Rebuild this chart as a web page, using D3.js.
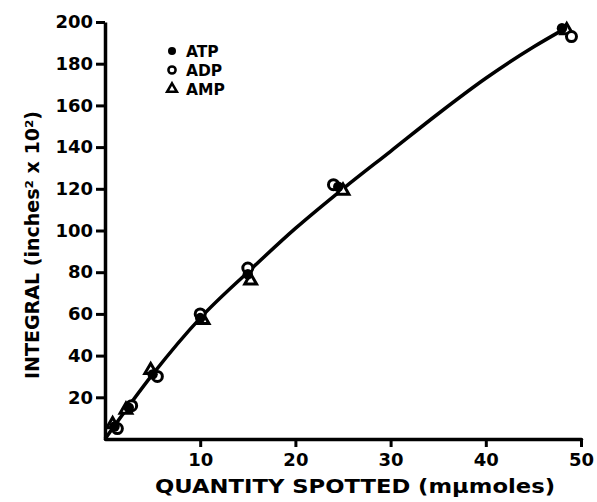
<!DOCTYPE html>
<html>
<head>
<meta charset="utf-8">
<script src="https://cdn.jsdelivr.net/npm/d3@7"></script>
<style>
html,body{margin:0;padding:0;background:#fff;}
svg text{font-family:"DejaVu Sans","Liberation Sans",sans-serif;font-weight:bold;fill:#000;}
</style>
</head>
<body>
<svg id="chart" width="597" height="502"></svg>
<script>
// Data
const xTicks = [10, 20, 30, 40, 50];
const yTicks = [20, 40, 60, 80, 100, 120, 140, 160, 180, 200];
const atp = [[1.0, 6], [2.5, 15], [5.0, 31], [10.0, 58], [15.0, 79], [24.5, 121], [48.0, 197]];
const adp = [[1.3, 5], [2.8, 16], [5.5, 30], [10.0, 60], [15.0, 82], [24.0, 122], [49.0, 193]];
const amp = [[0.8, 7], [2.2, 14], [4.8, 33], [10.3, 57], [15.3, 76], [25.0, 119], [48.5, 196]];
const curve = [[0, 0], [5, 31], [10, 58], [15, 80], [20, 101], [25, 120], [30, 138], [35, 156], [40, 173], [45, 188], [48, 196]];
const legendLabels = ["ATP", "ADP", "AMP"];

const svg = d3.select("#chart");
const x = d3.scaleLinear().domain([0, 50]).range([105, 581]);
const y = d3.scaleLinear().domain([0, 200]).range([439, 22]);

// X axis
const xAxis = svg.append("g").attr("transform", `translate(0,${y(0)})`)
  .call(d3.axisBottom(x).tickValues(xTicks).tickSize(8).tickSizeOuter(0).tickPadding(4));
// Y axis
const yAxis = svg.append("g").attr("transform", `translate(${x(0)},0)`)
  .call(d3.axisLeft(y).tickValues(yTicks).tickSize(9).tickSizeOuter(0).tickPadding(3));
[xAxis, yAxis].forEach(a => {
  a.select(".domain").attr("stroke", "#000").attr("stroke-width", 3.5);
  a.selectAll(".tick line").attr("stroke", "#000").attr("stroke-width", 3);
  a.selectAll(".tick text").attr("font-size", 18).attr("fill", "#000")
    .style("font-family", "'DejaVu Sans',sans-serif").style("font-weight", "bold");
});
xAxis.selectAll(".tick text").attr("dy", "0.85em");
xAxis.select(".domain").attr("stroke-linecap", "round");

// Fitted curve
const line = d3.line().x(d => x(d[0])).y(d => y(d[1])).curve(d3.curveMonotoneX);
svg.append("path").datum(curve).attr("d", line)
  .attr("fill", "none").attr("stroke", "#000").attr("stroke-width", 3.5);

// Markers
const tri = d3.symbol().type(d3.symbolTriangle).size(60);
svg.append("g").selectAll("path").data(amp).join("path")
  .attr("transform", d => `translate(${x(d[0])},${y(d[1])})`)
  .attr("d", tri).attr("fill", "#fff").attr("stroke", "#000").attr("stroke-width", 3);
svg.append("g").selectAll("circle").data(adp).join("circle")
  .attr("cx", d => x(d[0])).attr("cy", d => y(d[1])).attr("r", 5)
  .attr("fill", "#fff").attr("stroke", "#000").attr("stroke-width", 3);
svg.append("g").selectAll("circle").data(atp).join("circle")
  .attr("cx", d => x(d[0])).attr("cy", d => y(d[1])).attr("r", 5.2)
  .attr("fill", "#000");

// Legend
const lg = svg.append("g").attr("transform", "translate(172,51)");
const step = 19;
lg.append("circle").attr("cx", 0).attr("cy", 0).attr("r", 4).attr("fill", "#000");
lg.append("circle").attr("cx", 0).attr("cy", step).attr("r", 3.6)
  .attr("fill", "#fff").attr("stroke", "#000").attr("stroke-width", 2.5);
lg.append("path").attr("transform", `translate(0,${2 * step})`)
  .attr("d", d3.symbol().type(d3.symbolTriangle).size(42))
  .attr("fill", "#fff").attr("stroke", "#000").attr("stroke-width", 2.5);
lg.selectAll("text").data(legendLabels).join("text")
  .attr("x", 14).attr("y", (d, i) => i * step).attr("dy", "0.38em")
  .attr("font-size", 15.5).text(d => d);

// Axis titles
svg.append("text").attr("x", 355).attr("y", 493).attr("text-anchor", "middle")
  .attr("font-size", 19).attr("textLength", 400).attr("lengthAdjust", "spacingAndGlyphs")
  .text("QUANTITY  SPOTTED  (mμmoles)");
svg.append("text").attr("transform", "translate(39,245) rotate(-90)")
  .attr("text-anchor", "middle").attr("font-size", 19)
  .attr("textLength", 268).attr("lengthAdjust", "spacingAndGlyphs")
  .text("INTEGRAL (inches² x 10²)");
</script>
</body>
</html>
